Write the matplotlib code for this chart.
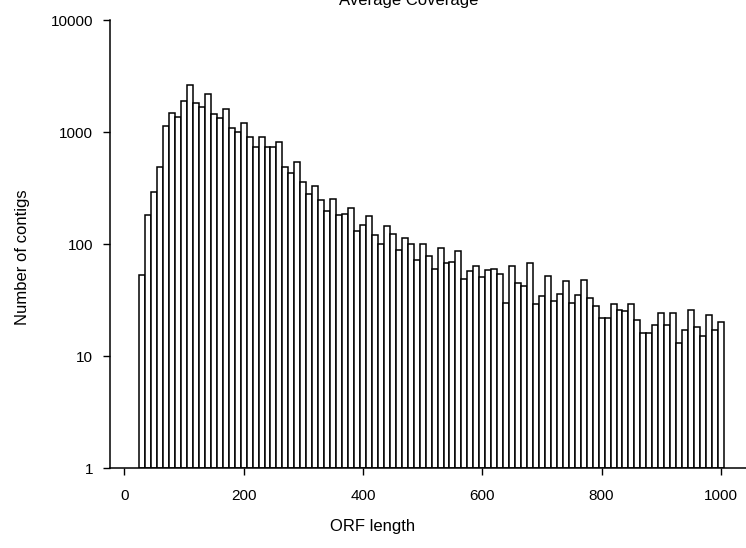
import numpy as np
import matplotlib
matplotlib.use("Agg")
import matplotlib.pyplot as plt

plt.rcParams["font.family"] = ["Liberation Sans", "DejaVu Sans"]

# ORF length bins (centres, width 10) and counts
orf_length = list(range(30, 1001, 10))
contigs = [
    52, 179, 288, 484, 1124, 1468, 1352, 1905, 2643, 1828,
    1660, 2168, 1450, 1336, 1617, 1094, 1002, 1205, 897, 741,
    903, 736, 736, 805, 484, 428, 537, 356, 277, 331,
    248, 195, 251, 182, 185, 207, 129, 146, 177, 120,
    100, 144, 122, 88, 113, 100, 71, 99, 77, 59,
    92, 66, 68, 86, 48, 56, 63, 50, 57, 59,
    53, 29, 63, 44, 41, 67, 28, 33, 51, 30,
    35, 46, 29, 34, 47, 32, 27, 21, 21, 28,
    25, 24, 28, 20, 15, 15, 18, 23, 18, 23,
    12, 16, 25, 17, 14, 22, 16, 19,
]
x_ticks = [0, 200, 400, 600, 800, 1000]
y_ticks = [1, 10, 100, 1000, 10000]

fig = plt.figure(figsize=(7.46, 5.48), dpi=100)
ax = fig.add_axes([110 / 746, 1 - 468 / 548, 636 / 746, 448 / 548])

ax.bar(orf_length, contigs, width=10, bottom=1, color="white",
       edgecolor="black", linewidth=1.1)

ax.set_yscale("log")
ax.set_ylim(1, 10000)
ax.set_xlim(-24, 1042)
ax.set_xticks(x_ticks)
ax.set_xticklabels([str(v) for v in x_ticks])
ax.set_yticks(y_ticks)
ax.set_yticklabels([str(v) for v in y_ticks])
ax.minorticks_off()

for side in ["top", "right"]:
    ax.spines[side].set_visible(False)
for side in ["left", "bottom"]:
    ax.spines[side].set_linewidth(1.1)

ax.tick_params(axis="x", direction="out", length=5, width=1.0, pad=10, labelsize=11)
ax.tick_params(axis="y", direction="out", length=5, width=1.0, pad=7, labelsize=11)

fig.text(373 / 746, 1 - 527 / 548, "ORF length", ha="center", va="center", fontsize=12)
fig.text(23 / 746, 1 - 257 / 548, "Number of contigs", ha="center", va="center",
         rotation=90, fontsize=12)
fig.text(409 / 746, 1 - 1 / 548, "Average Coverage", ha="center", va="center", fontsize=12)

fig.savefig("out.png", dpi=100)
